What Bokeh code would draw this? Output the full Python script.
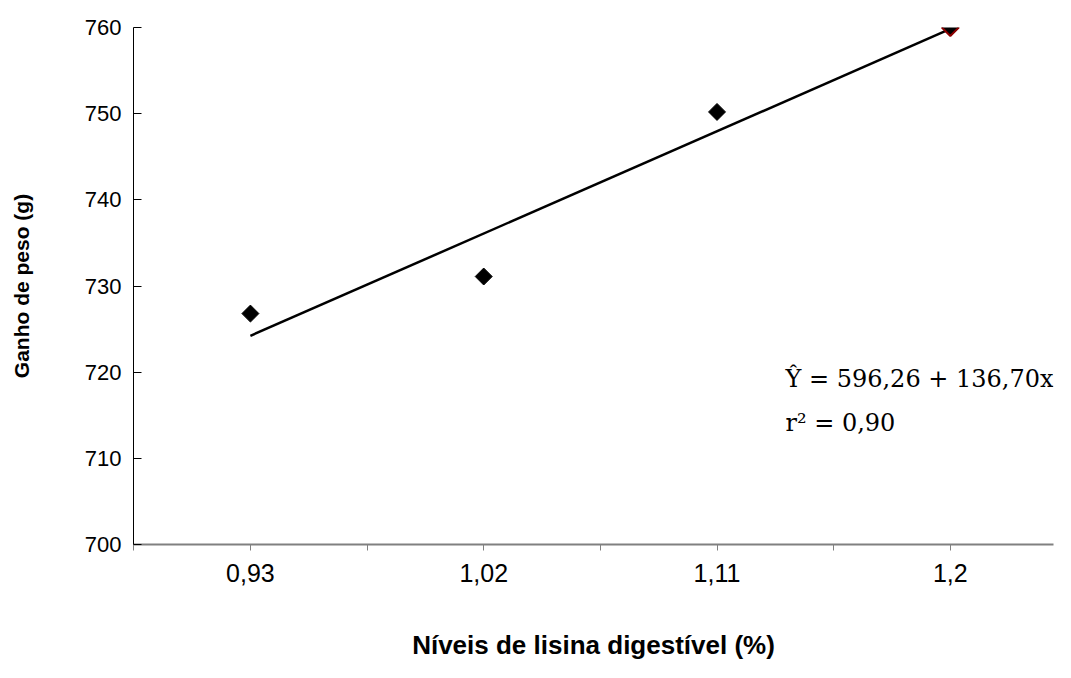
import numpy as np
from bokeh.plotting import figure
from bokeh.models import FixedTicker, Range1d, Label
from bokeh.embed import file_html
from bokeh.resources import INLINE

# ---- data ----
levels = [0.93, 1.02, 1.11, 1.2]
gain = [726.8, 731.1, 750.2, 760.0]
x_tick_labels = ["0,93", "1,02", "1,11", "1,2"]
y_ticks = [700, 710, 720, 730, 740, 750, 760]
x_boundaries = [0.885, 0.975, 1.065, 1.155, 1.245]
x_title = "Níveis de lisina digestível (%)"
y_title = "Ganho de peso (g)"
equation_text = "Ŷ = 596,26 + 136,70x"
r2_text = "r² = 0,90"

slope, intercept = np.polyfit(levels, gain, 1)
trend_x = [levels[0], levels[-1]]
trend_y = [intercept + slope * v for v in trend_x]

p = figure(width=1055, height=662, output_backend="svg", toolbar_location=None,
           x_range=Range1d(0.8849, 1.2398), y_range=Range1d(700, 760),
           min_border_left=133, min_border_top=27, min_border_right=2,
           min_border_bottom=116)
p.background_fill_color = "white"
p.border_fill_color = "white"
p.outline_line_color = None
p.xgrid.visible = False
p.ygrid.visible = False

# trend line
p.line(trend_x, trend_y, line_color="black", line_width=2.5)

# points
p.scatter(levels[:-1], gain[:-1], marker="square", angle=np.pi / 4, size=12,
          fill_color="black", line_color="black")
p.scatter(levels[-1:], gain[-1:], marker="square", angle=np.pi / 4, size=12,
          fill_color="black", line_color="#8B0000", line_width=2)

# x axis
xa = p.xaxis[0]
xa.ticker = FixedTicker(ticks=levels, minor_ticks=x_boundaries)
xa.major_label_overrides = {lv: lab for lv, lab in zip(levels, x_tick_labels)}
xa.axis_line_color = "#808080"
xa.axis_line_width = 2
xa.major_tick_line_color = "#808080"
xa.minor_tick_line_color = "#808080"
xa.major_tick_in = 0
xa.major_tick_out = 6
xa.minor_tick_in = 0
xa.minor_tick_out = 6
xa.major_label_text_font = "Liberation Sans"
xa.major_label_text_font_size = "25px"
xa.major_label_text_color = "black"
xa.major_label_standoff = 13
xa.axis_label = x_title
xa.axis_label_text_font = "Liberation Sans"
xa.axis_label_text_font_size = "26px"
xa.axis_label_text_font_style = "bold"
xa.axis_label_text_color = "black"
xa.axis_label_standoff = 45

# y axis
ya = p.yaxis[0]
ya.ticker = FixedTicker(ticks=y_ticks, minor_ticks=[])
ya.axis_line_color = "black"
ya.axis_line_width = 1
ya.major_tick_line_color = "black"
ya.major_tick_in = 8
ya.major_tick_out = 0
ya.minor_tick_in = 0
ya.minor_tick_out = 0
ya.major_label_text_font = "Liberation Sans"
ya.major_label_text_font_size = "22px"
ya.major_label_text_color = "black"
ya.major_label_standoff = 12
ya.axis_label = y_title
ya.axis_label_text_font = "Liberation Sans"
ya.axis_label_text_font_size = "21px"
ya.axis_label_text_font_style = "bold"
ya.axis_label_text_color = "black"
ya.axis_label_standoff = 49

# equation annotation
p.add_layout(Label(x=1.1364, y=719.2, text=equation_text, text_font="DejaVu Serif",
                   text_font_size="24px", text_baseline="middle", text_color="black"))
p.add_layout(Label(x=1.1364, y=714.1, text=r2_text, text_font="DejaVu Serif",
                   text_font_size="24px", text_baseline="middle", text_color="black"))

open("out.html", "w").write(file_html(p, INLINE))
